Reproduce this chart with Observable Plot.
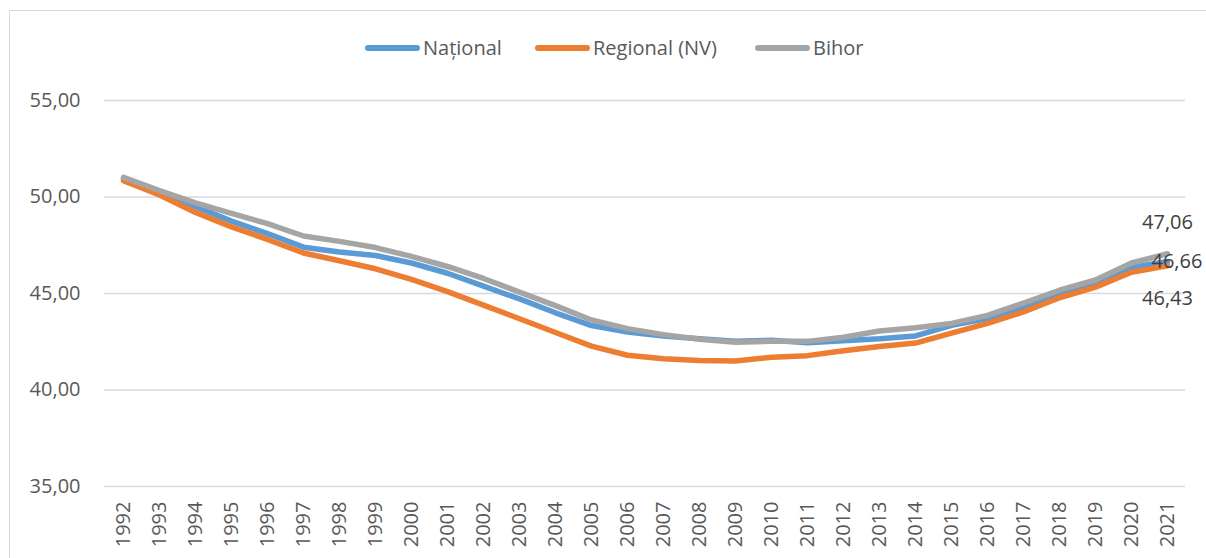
<!DOCTYPE html>
<html>
<head>
<meta charset="utf-8">
<script src="https://cdn.jsdelivr.net/npm/d3@7"></script>
<script src="https://cdn.jsdelivr.net/npm/@observablehq/plot@0.6"></script>
<style>
  html, body { margin: 0; padding: 0; background: #fff; }
  #wrap { position: relative; width: 1206px; height: 558px; overflow: hidden; font-family: "Open Sans", sans-serif; }
  #frame { position: absolute; left: 9px; top: 10px; width: 1400px; height: 800px; border: 1.5px solid #d9d9d9; box-sizing: border-box; pointer-events: none; }
  #legend { position: relative; height: 75px; }
  .item { position: absolute; top: 34px; display: flex; align-items: center; color: #595959; font-size: 20px; line-height: 28px; }
  .sw { width: 55px; height: 6px; border-radius: 3px; margin-right: 3px; }
  #chart svg { display: block; }
</style>
</head>
<body>
<div id="wrap">
  <div id="frame"></div>
  <div id="legend"></div>
  <div id="chart"></div>
</div>
<script>
const years = ["1992","1993","1994","1995","1996","1997","1998","1999","2000","2001","2002","2003","2004","2005","2006","2007","2008","2009","2010","2011","2012","2013","2014","2015","2016","2017","2018","2019","2020","2021"];
const national = [50.95,50.25,49.5,48.75,48.1,47.4,47.15,46.97,46.58,46.05,45.38,44.72,44.0,43.34,43.0,42.8,42.65,42.52,42.58,42.45,42.55,42.65,42.8,43.35,43.7,44.27,44.95,45.5,46.35,46.66];
const regional = [50.85,50.1,49.2,48.45,47.8,47.1,46.7,46.28,45.73,45.1,44.4,43.69,42.98,42.27,41.8,41.62,41.53,41.5,41.7,41.78,42.03,42.25,42.43,42.95,43.45,44.05,44.78,45.33,46.1,46.43];
const bihor = [51.02,50.33,49.7,49.15,48.62,47.98,47.7,47.38,46.92,46.4,45.78,45.07,44.37,43.63,43.18,42.87,42.63,42.47,42.52,42.52,42.73,43.06,43.22,43.45,43.87,44.5,45.17,45.7,46.58,47.06];
const seriesNames = ["Național","Regional (NV)","Bihor"];
const seriesColors = ["#5B9BD5","#ED7D31","#A5A5A5"];
const yTicks = [35,40,45,50,55];

const seriesValues = [national, regional, bihor];
const rows = [];
seriesNames.forEach((name, s) => {
  years.forEach((yr, i) => rows.push({series: name, year: yr, value: seriesValues[s][i]}));
});
const fmt = v => v.toFixed(2).replace(".", ",");
const last = seriesNames.map((name, s) => ({series: name, year: years[years.length-1], value: seriesValues[s][years.length-1]}));

// legend
const legend = document.getElementById("legend");
const legendLeft = [365, 535, 755];
seriesNames.forEach((name, i) => {
  const it = document.createElement("div");
  it.className = "item";
  it.style.left = legendLeft[i] + "px";
  it.innerHTML = `<div class="sw" style="background:${seriesColors[i]}"></div><span>${name}</span>`;
  legend.appendChild(it);
});

const chart = Plot.plot({
  width: 1206,
  height: 483,
  marginTop: 25,
  marginBottom: 72,
  marginLeft: 104,
  marginRight: 21,
  style: {fontFamily: "Open Sans, sans-serif", fontSize: "20px", color: "#595959", background: "transparent", overflow: "visible"},
  x: {type: "point", domain: years, padding: 0.5},
  y: {domain: [35, 55]},
  color: {domain: seriesNames, range: seriesColors},
  marks: [
    Plot.gridY(yTicks, {stroke: "#d9d9d9", strokeOpacity: 1, strokeWidth: 1.5}),
    Plot.axisY(yTicks, {tickSize: 0, tickPadding: 24, tickFormat: fmt, fill: "#595959", fontSize: 20, label: null}),
    Plot.axisX({tickRotate: -90, tickSize: 0, tickPadding: 15, fill: "#595959", fontSize: 20, label: null}),
    Plot.line(rows, {x: "year", y: "value", z: "series", stroke: "series", strokeWidth: 5.5, strokeLinejoin: "round", strokeLinecap: "round"}),
    Plot.text([last[2]], {x: "year", y: "value", text: d => fmt(d.value), dy: -31, fill: "#404040", fontSize: 20}),
    Plot.text([last[0]], {x: "year", y: "value", text: d => fmt(d.value), dx: -16, textAnchor: "start", fill: "#404040", fontSize: 20}),
    Plot.text([last[1]], {x: "year", y: "value", text: d => fmt(d.value), dy: 33, fill: "#404040", fontSize: 20})
  ]
});
document.getElementById("chart").appendChild(chart);
</script>
</body>
</html>
